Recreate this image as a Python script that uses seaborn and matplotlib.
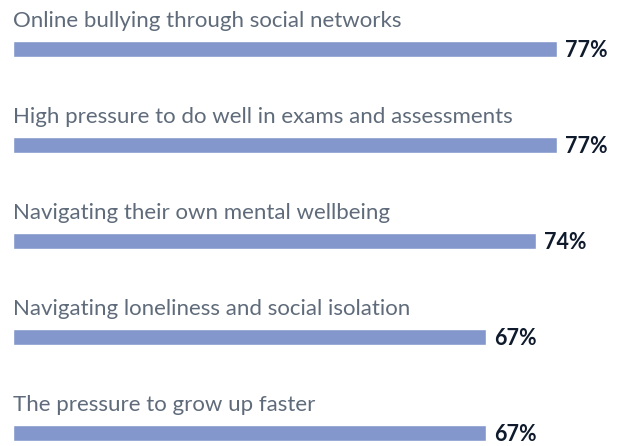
import pandas as pd
import numpy as np
import matplotlib.pyplot as plt
import seaborn as sns

categories = [
    "Online bullying through social networks",
    "High pressure to do well in exams and assessments",
    "Navigating their own mental wellbeing",
    "Navigating loneliness and social isolation",
    "The pressure to grow up faster",
]
values = [77, 77, 74, 67, 67]

df = pd.DataFrame({"issue": categories, "pct": values})

sns.set_style("white")
plt.rcParams["font.family"] = ["Lato", "DejaVu Sans"]

fig = plt.figure(figsize=(6.21, 4.46), dpi=100)
ax = fig.add_axes([0, 0, 1, 1])

sns.barplot(data=df, x="pct", y="issue", orient="h", color="#8497cc",
            saturation=1, width=0.175, ax=ax)

# category label above each bar, value to the right
for i, (name, v) in enumerate(zip(categories, values)):
    ax.text(0, i - 0.295, name, ha="left", va="center", fontsize=16,
            color="#5f6b7a")
    ax.text(v + 1.1, i + 0.02, f"{v}%", ha="left", va="center", fontsize=15.5,
            fontweight="bold", color="#0f1b2d")

ax.set_xlim(-1.84, 86.06)
ax.set_ylim(4.135, -0.51)
ax.set_axis_off()

plt.savefig("out.png", dpi=100)
